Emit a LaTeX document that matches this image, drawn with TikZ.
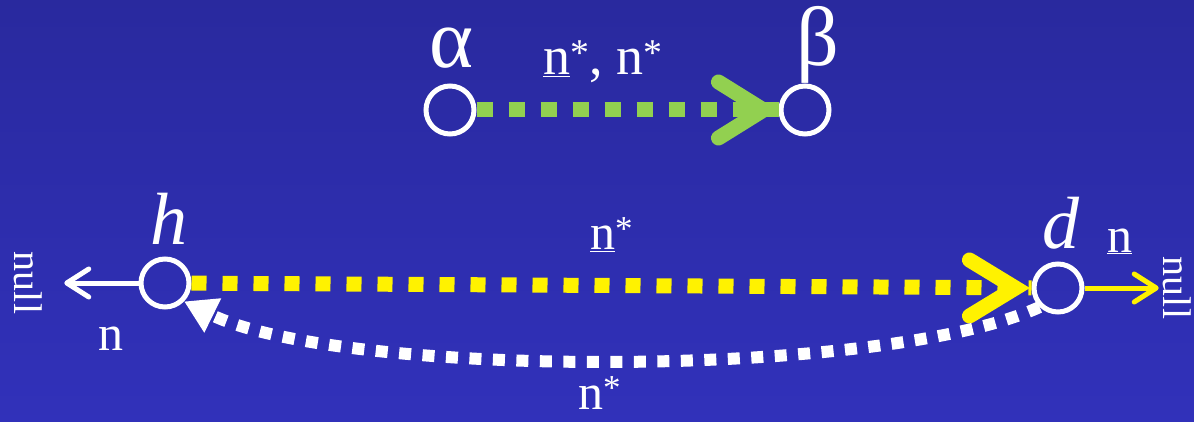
\documentclass[tikz,border=0pt]{standalone}
\usepackage{fontspec}
\setmainfont{Liberation Serif}
\usetikzlibrary{arrows.meta,positioning,calc}
\definecolor{bgtop}{RGB}{41,41,158}
\definecolor{bgbot}{RGB}{49,49,186}
\definecolor{chgreen}{RGB}{146,208,80}
\tikzset{
  state/.style={circle, draw=white, line width=5pt, minimum size=48pt, inner sep=0pt},
  lbl/.style={text=white, inner sep=0pt},
  big/.style={lbl, font=\fontsize{74}{74}\selectfont},
  greek/.style={lbl, font=\fontsize{84}{84}\selectfont},
  small/.style={lbl, font=\fontsize{50}{50}\selectfont},
  side/.style={lbl, rotate=-90, font=\fontsize{40}{40}\selectfont},
  gdash/.style={chgreen, line width=15pt, dash pattern=on 16pt off 16pt},
  ydash/.style={yellow, line width=15pt, dash pattern=on 15pt off 16pt},
  wdash/.style={white, line width=12pt, dash pattern=on 12pt off 11.5pt},
  chev/.style={line width=15pt, line cap=round, line join=miter},
  thin/.style={line width=5pt, -{Straight Barb[length=22pt,width=28pt,round]}}
}
\newcommand{\ustar}{\underline{n}\textsuperscript{*}}
\begin{document}
\begin{tikzpicture}[x=1pt, y=1pt]
  \shade[top color=bgtop, bottom color=bgbot] (0,0) rectangle (1194,-422);
  \useasboundingbox (0,0) rectangle (1194,-422);

  % upper pair
  \node[state] (a) at (450,-110) {};
  \node[state] (b) at (805,-110) {};
  \node[greek] at (451,-48) {α};
  \node[greek] at (818,-45) {β};
  \node[lbl, anchor=base west, font=\fontsize{54}{54}\selectfont] at (543,-75) {\ustar, n\textsuperscript{*}};
  \draw[gdash] (a) -- (b);
  \draw[chev, chgreen] ($(b.west)+(-60,28)$) -- ($(b.west)+(-15,0)$) -- ($(b.west)+(-60,-28)$);

  % lower pair
  \node[state] (h) at (165,-283) {};
  \node[state] (d) at (1058,-288) {};
  \node[big] at (169,-219) {\itshape h};
  \node[big] at (1061,-223) {\itshape d};
  \node[side] (nl) at (28,-283) {null};
  \node[side] (nr) at (1177,-288) {null};

  \draw[ydash] (h) -- (d);
  \draw[chev, yellow] ($(d.west)+(-62,28)$) -- ($(d.west)+(-16,0)$) -- ($(d.west)+(-62,-28)$);
  \node[small, anchor=base west] at (590,-250) {\ustar};

  \draw[wdash, -{Triangle[length=32pt,width=36pt]}] (d.-134) .. controls (880,-380) and (340,-378) .. (h.-44);
  \node[small, anchor=base west] at (578,-409) {n\textsuperscript{*}};

  \draw[thin, white, shorten >=22pt] (h) -- (nl);
  \node[small, anchor=base west] at (98,-350) {n};
  \draw[thin, yellow, shorten >=4pt] (d) -- (nr);
  \node[small, anchor=base west] at (1107,-252) {\underline{n}};
\end{tikzpicture}
\end{document}
